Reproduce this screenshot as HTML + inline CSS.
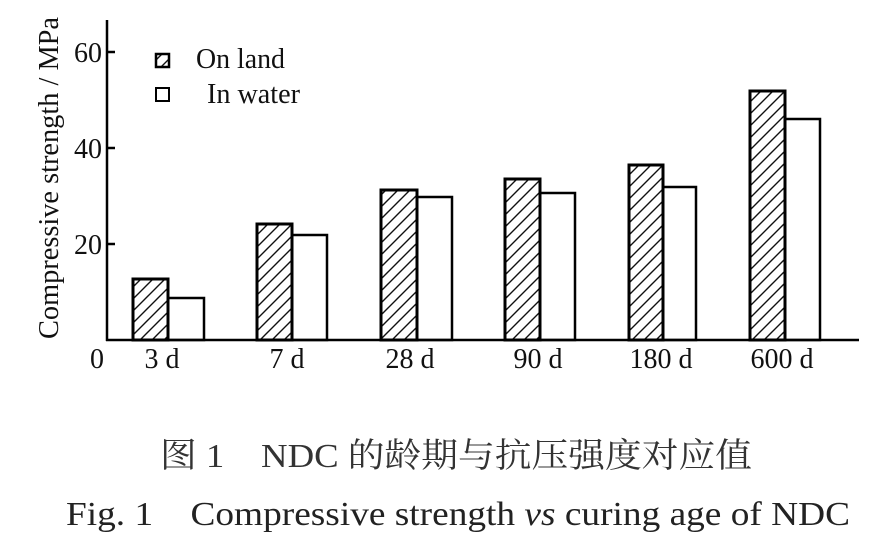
<!DOCTYPE html>
<html><head><meta charset="utf-8"><style>body{margin:0;background:#fff}svg{display:block}</style></head><body>
<svg width="896" height="553" viewBox="0 0 896 553" xmlns="http://www.w3.org/2000/svg" font-family="Liberation Serif, serif">
<defs><pattern id="h" width="12" height="12" patternUnits="userSpaceOnUse">
<path d="M-3,15 L15,-3 M-3,3 L3,-3 M9,15 L15,9" stroke="#111" stroke-width="1.4"/></pattern></defs>
<rect width="896" height="553" fill="#fff"/>
<g stroke="#000" stroke-width="2.5" fill="none">
<line x1="107" y1="20" x2="107" y2="341"/>
<line x1="106" y1="340" x2="859" y2="340"/>
<line x1="107" y1="52" x2="115" y2="52"/>
<line x1="107" y1="148" x2="115" y2="148"/>
<line x1="107" y1="244" x2="115" y2="244"/>
</g>
<g stroke="#000" stroke-width="3">
<rect x="133" y="279" width="35" height="61" fill="url(#h)"/>
<rect x="257" y="224" width="35" height="116" fill="url(#h)"/>
<rect x="381" y="190" width="36" height="150" fill="url(#h)"/>
<rect x="505" y="179" width="35" height="161" fill="url(#h)"/>
<rect x="629" y="165" width="34" height="175" fill="url(#h)"/>
<rect x="750" y="91" width="35" height="249" fill="url(#h)"/>
</g>
<g stroke="#000" stroke-width="2.5" fill="none">
<rect x="168" y="298" width="36" height="42"/>
<rect x="292" y="235" width="35" height="105"/>
<rect x="417" y="197" width="35" height="143"/>
<rect x="540" y="193" width="35" height="147"/>
<rect x="663" y="187" width="33" height="153"/>
<rect x="785" y="119" width="35" height="221"/>
</g>
<g font-size="28" fill="#111" text-anchor="end">
<text x="102" y="62">60</text><text x="102" y="158">40</text><text x="102" y="254">20</text>
</g>
<g font-size="28" fill="#111" text-anchor="middle">
<text x="97" y="368">0</text>
<text x="162" y="368">3 d</text><text x="287" y="368">7 d</text><text x="410" y="368">28 d</text>
<text x="538" y="368">90 d</text><text x="661" y="368">180 d</text><text x="782" y="368">600 d</text>
</g>
<text transform="translate(58,178) rotate(-90)" font-size="28" text-anchor="middle" fill="#111" textLength="322" lengthAdjust="spacingAndGlyphs">Compressive strength / MPa</text>
<rect x="156" y="54" width="13" height="13" fill="url(#h)" stroke="#000" stroke-width="2.5"/>
<rect x="156" y="88" width="13" height="13" fill="none" stroke="#000" stroke-width="2"/>
<text x="196" y="68" font-size="28" fill="#111" textLength="89" lengthAdjust="spacingAndGlyphs">On land</text>
<text x="207" y="103" font-size="28" fill="#111" textLength="93" lengthAdjust="spacingAndGlyphs">In water</text>
<text x="160" y="467" font-size="34" fill="#333" font-family="Liberation Serif, Noto Serif CJK SC, serif" textLength="592" lengthAdjust="spacingAndGlyphs">图 1　NDC 的龄期与抗压强度对应值</text>
<text x="66" y="525" font-size="34" fill="#222" textLength="784" lengthAdjust="spacingAndGlyphs">Fig. 1　Compressive strength <tspan font-style="italic">vs</tspan> curing age of NDC</text>
</svg>
</body></html>
